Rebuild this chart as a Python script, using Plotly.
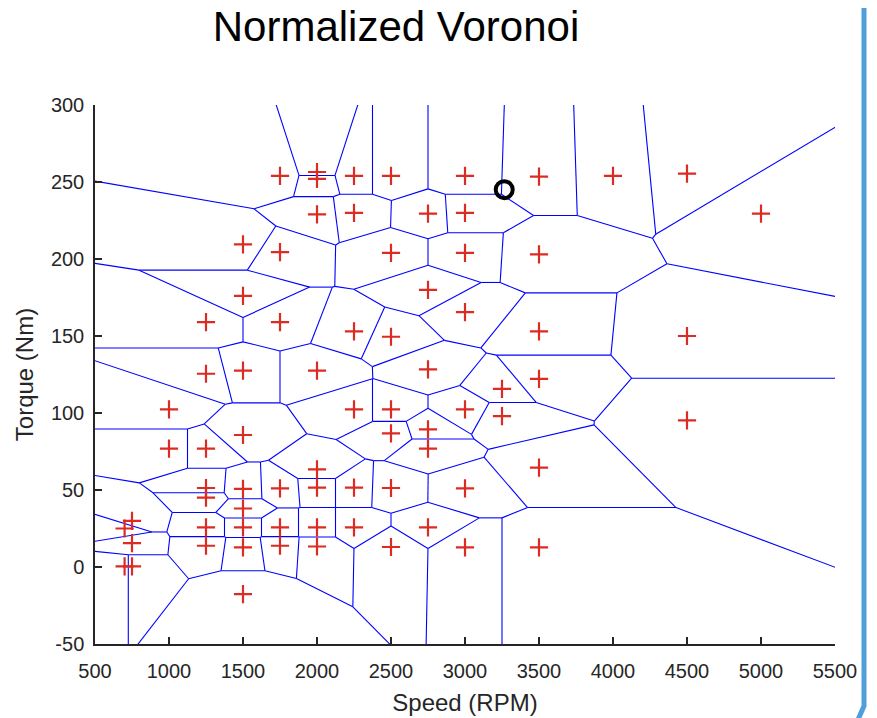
import numpy as np
import plotly.graph_objects as go

# ---- data ----
speed = [1750, 2000, 2000, 2250, 2500, 3000, 3500, 4000, 4500,
         5000, 2000, 2250, 2750, 3000,
         1500, 1750, 2500, 3000, 3500,
         2750, 1500, 3000,
         1250, 1750, 2250, 2500, 3500, 4500,
         1250, 1500, 2000, 2750, 3500, 3250,
         1000, 2250, 2500, 3000, 3250, 4500,
         1500, 2500, 2750, 1000, 1250, 2750,
         2000, 3500,
         1250, 1500, 1750, 2000, 2250, 2500, 3000,
         1250, 1500,
         750, 700, 1250, 1500, 1750, 2000, 2250, 2750,
         750, 1250, 1500, 1750, 2000, 2500, 3000, 3500,
         700, 750, 1500]
torque = [254, 256.5, 252, 254, 254, 254, 253.5, 254, 255.5,
          229.5, 229, 230, 229.5, 230,
          209.5, 204.5, 204, 204, 203,
          180, 176, 165.5,
          159, 159, 153, 149.5, 153, 150,
          125.5, 127.5, 127.5, 128.3, 122.2, 115.7,
          102.3, 102.3, 102.3, 102.3, 98, 95.2,
          85.7, 86.8, 89.4, 76.9, 76.9, 76.9,
          63.4, 64.5,
          51.3, 50.7, 51, 51.6, 51.6, 51.3, 51.1,
          45.1, 38,
          30, 25, 25.7, 25.7, 25.7, 25.7, 25.7, 25.7,
          15.5, 13.8, 12.7, 13.8, 13.3, 13, 12.7, 12.7,
          0.4, 0.4, -17.6]
query_speed = [3265]
query_torque = [245]

x_ticks = list(range(500, 5501, 500))
x_labels = [str(v) for v in x_ticks]
y_ticks = list(range(-50, 301, 50))
y_labels = [str(v) for v in y_ticks]

# normalisation scales for the Voronoi computation
SX, SY = 5500.0, 300.0


def clip(poly, a, b, c):
    out = []
    n = len(poly)
    for k in range(n):
        P = poly[k]
        Q = poly[(k + 1) % n]
        fp = a * P[0] + b * P[1] - c
        fq = a * Q[0] + b * Q[1] - c
        if fp <= 0:
            out.append(P)
        if (fp <= 0) != (fq <= 0):
            t = fp / (fp - fq)
            out.append((P[0] + t * (Q[0] - P[0]), P[1] + t * (Q[1] - P[1])))
    return out


U = np.array(speed, float) / SX
V = np.array(torque, float) / SY
box = [(-10.0, -20.0), (20.0, -20.0), (20.0, 20.0), (-10.0, 20.0)]
edges = {}
for i in range(len(U)):
    poly = list(box)
    for j in range(len(U)):
        if i == j:
            continue
        a = U[j] - U[i]
        b = V[j] - V[i]
        c = a * (U[i] + U[j]) / 2 + b * (V[i] + V[j]) / 2
        poly = clip(poly, a, b, c)
        if not poly:
            break
    n = len(poly)
    for k in range(n):
        P = poly[k]
        Q = poly[(k + 1) % n]
        if abs(P[0] - Q[0]) + abs(P[1] - Q[1]) < 1e-9:
            continue
        kp = (round(P[0], 6), round(P[1], 6))
        kq = (round(Q[0], 6), round(Q[1], 6))
        key = tuple(sorted([kp, kq]))
        edges[key] = (P, Q)

ex, ey = [], []
for P, Q in edges.values():
    ex += [P[0] * SX, Q[0] * SX, None]
    ey += [P[1] * SY, Q[1] * SY, None]

fig = go.Figure()
fig.add_trace(go.Scatter(x=ex, y=ey, mode="lines",
                         line=dict(color="#0000ff", width=1.1),
                         hoverinfo="skip", showlegend=False))
fig.add_trace(go.Scatter(x=speed, y=torque, mode="markers",
                         marker=dict(symbol="cross-thin", size=13, color="#dc2b22",
                                     line=dict(color="#dc2b22", width=2.2)),
                         showlegend=False))
fig.add_trace(go.Scatter(x=query_speed, y=query_torque, mode="markers",
                         marker=dict(symbol="circle-open", size=17, color="black",
                                     line=dict(color="black", width=4)),
                         showlegend=False))

# the page body adds an 8 px offset, so figure coordinates = screen - 8
OFF = 8
L, R, T, B = 95 - OFF, 835 - OFF, 105 - OFF, 644 - OFF
W, H = 877, 718


def px(xp):
    return (xp - OFF - L) / (R - L)


def py(yp):
    return (B - (yp - OFF)) / (B - T)


fig.add_shape(type="path", xref="paper", yref="paper",
              path=f"M {px(864)} {py(0)} L {px(864)} {py(706)} L {px(857)} {py(722)}",
              line=dict(color="#4f9fdc", width=5), layer="above")

axis_common = dict(showgrid=False, zeroline=False, showline=True, automargin=False,
                   linecolor="#262626", linewidth=1.5, mirror=False,
                   ticks="inside", ticklen=7, tickwidth=1.5, tickcolor="#262626",
                   tickfont=dict(family="Liberation Sans, Arial", size=20, color="#262626"))

fig.update_layout(
    width=W, height=H,
    margin=dict(l=L, r=W - R, t=T, b=H - B, autoexpand=False),
    paper_bgcolor="white", plot_bgcolor="white",
    title=dict(text="Normalized Voronoi", x=(396 - OFF) / W, xref="container", xanchor="center",
               y=1 - (26 - OFF) / H, yref="container", yanchor="middle",
               font=dict(family="Liberation Sans, Arial", size=42, color="black")),
    xaxis=dict(range=[500, 5500], tickvals=x_ticks, ticktext=x_labels, ticklabelstandoff=8,
               title=dict(text="Speed (RPM)", standoff=13,
                          font=dict(family="Liberation Sans, Arial", size=24, color="#262626")),
               **axis_common),
    yaxis=dict(range=[-50, 300], tickvals=y_ticks, ticktext=y_labels, ticklabelstandoff=5,
               title=dict(text="Torque (Nm)", standoff=10,
                          font=dict(family="Liberation Sans, Arial", size=24, color="#262626")),
               **axis_common),
)

fig.write_html("out.html")
